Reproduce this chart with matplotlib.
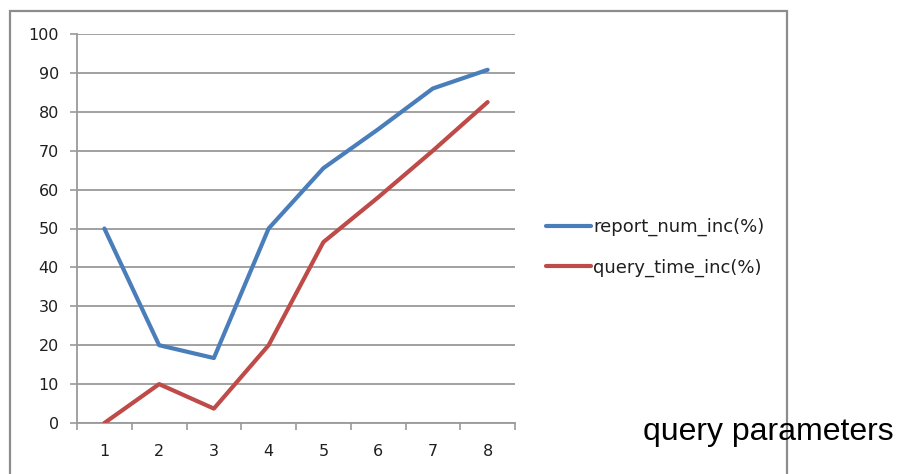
import matplotlib.pyplot as plt
from matplotlib.patches import Rectangle
from matplotlib.ticker import FixedLocator, NullFormatter

params = [1, 2, 3, 4, 5, 6, 7, 8]
report_num_inc = [50, 20, 16.7, 50, 65.5, 75.5, 86, 90.8]
query_time_inc = [0, 10, 3.7, 20, 46.5, 58, 70, 82.5]
y_ticks = [0, 10, 20, 30, 40, 50, 60, 70, 80, 90, 100]

grid_gray = '#9a9a9a'
text_col = '#1f1f1f'

fig = plt.figure(figsize=(8.98, 4.74), dpi=100)
ax = fig.add_axes([77 / 898, 1 - 423 / 474, 438 / 898, 389 / 474])

ax.plot(params, report_num_inc, color='#4a7ebb', lw=3.0, solid_capstyle='round',
        label='report_num_inc(%)', zorder=3)
ax.plot(params, query_time_inc, color='#be4b48', lw=3.0, solid_capstyle='round',
        label='query_time_inc(%)', zorder=3)

ax.set_xlim(0.5, 8.5)
ax.set_ylim(0, 100)
ax.set_yticks(y_ticks)
ax.yaxis.grid(True, color=grid_gray, lw=1.3)
ax.set_axisbelow(True)

# tick marks sit between categories, labels sit under them
ax.xaxis.set_major_locator(FixedLocator([i + 0.5 for i in range(0, 9)]))
ax.xaxis.set_major_formatter(NullFormatter())
ax.xaxis.set_minor_locator(FixedLocator(params))
ax.set_xticklabels([str(p) for p in params], minor=True)
ax.tick_params(axis='x', which='major', direction='out', length=5, width=1.2, color=grid_gray)
ax.tick_params(axis='x', which='minor', length=0, pad=15, labelsize=11.5, labelcolor=text_col)
ax.tick_params(axis='y', direction='out', length=5, width=1.2, color=grid_gray,
               pad=8, labelsize=11.5, labelcolor=text_col)

for side in ['top', 'right']:
    ax.spines[side].set_visible(False)
for side in ['left', 'bottom']:
    ax.spines[side].set_color(grid_gray)
    ax.spines[side].set_linewidth(1.3)

fig.legend(loc='upper left', bbox_to_anchor=(546 / 898, 1 - 218 / 474), frameon=False,
           fontsize=13, handlelength=2.5, handletextpad=0.1, labelspacing=1.22,
           borderpad=0, borderaxespad=0, labelcolor=text_col)

# outer chart frame
fig.patches.append(Rectangle((10 / 898, -0.02), 777 / 898, 1.02 - 11 / 474,
                             transform=fig.transFigure, fill=False,
                             edgecolor='#8c8c8c', lw=1.6))

fig.text(643 / 898, 1 - 432 / 474, 'query parameters', fontsize=23,
         family='Liberation Sans', color='black', ha='left', va='center')

fig.savefig('out.png', dpi=100)
